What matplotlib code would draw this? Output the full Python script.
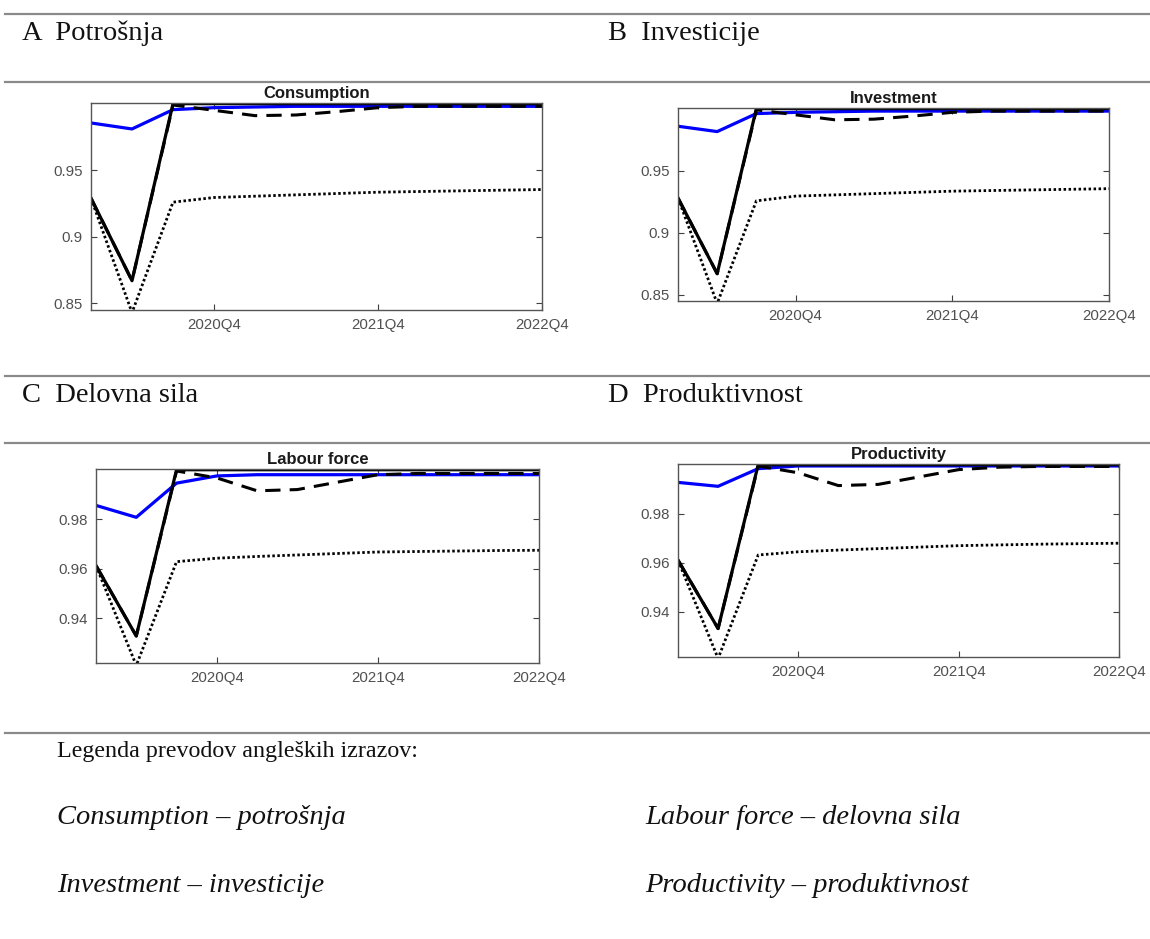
import numpy as np
import matplotlib
matplotlib.use("Agg")
from matplotlib import pyplot as plt

# quarters 2020Q1 .. 2022Q4
quarters = ["2020Q1", "2020Q2", "2020Q3", "2020Q4",
            "2021Q1", "2021Q2", "2021Q3", "2021Q4",
            "2022Q1", "2022Q2", "2022Q3", "2022Q4"]
tick_quarters = ["2020Q4", "2021Q4", "2022Q4"]

# Consumption
cons_blue   = [0.9855, 0.981, 0.9955, 0.997, 0.9975, 0.998, 0.998, 0.998, 0.998, 0.998, 0.998, 0.998]
cons_solid  = [0.929, 0.867, 1.0, 1.0, 1.0, 1.0, 1.0, 1.0, 1.0, 1.0, 1.0, 1.0]
cons_dashed = [0.929, 0.867, 0.999, 0.995, 0.991, 0.9915, 0.994, 0.997, 0.998, 0.998, 0.998, 0.998]
cons_dotted = [0.929, 0.843, 0.926, 0.9295, 0.9305, 0.9315, 0.9325, 0.9335, 0.934, 0.9345, 0.935, 0.9355]

# Investment
inv_blue   = [0.9858, 0.9815, 0.996, 0.997, 0.9975, 0.998, 0.998, 0.998, 0.998, 0.998, 0.998, 0.998]
inv_solid  = [0.928, 0.867, 1.0, 1.0, 1.0, 1.0, 1.0, 1.0, 1.0, 1.0, 1.0, 1.0]
inv_dashed = [0.928, 0.867, 0.999, 0.995, 0.991, 0.9915, 0.994, 0.997, 0.998, 0.998, 0.998, 0.998]
inv_dotted = [0.928, 0.843, 0.9257, 0.9295, 0.9305, 0.9315, 0.9325, 0.9335, 0.934, 0.9345, 0.935, 0.9355]

# Labour force
lab_blue   = [0.9856, 0.9808, 0.9946, 0.9975, 0.998, 0.998, 0.998, 0.998, 0.998, 0.998, 0.998, 0.998]
lab_solid  = [0.9613, 0.9329, 1.0, 1.0, 1.0, 1.0, 1.0, 1.0, 1.0, 1.0, 1.0, 1.0]
lab_dashed = [0.9613, 0.9329, 0.9995, 0.9967, 0.9915, 0.992, 0.995, 0.998, 0.9985, 0.9985, 0.9985, 0.9985]
lab_dotted = [0.9613, 0.921, 0.9629, 0.9643, 0.965, 0.9656, 0.9662, 0.9668, 0.967, 0.9672, 0.9674, 0.9675]

# Productivity
prod_blue   = [0.9928, 0.9912, 0.9984, 0.9995, 0.9995, 0.9995, 0.9995, 0.9995, 0.9995, 0.9995, 0.9995, 0.9995]
prod_solid  = [0.9611, 0.9332, 1.0, 1.0, 1.0, 1.0, 1.0, 1.0, 1.0, 1.0, 1.0, 1.0]
prod_dashed = [0.9611, 0.9332, 0.9995, 0.9967, 0.9915, 0.992, 0.995, 0.998, 0.999, 0.9993, 0.9993, 0.9993]
prod_dotted = [0.9611, 0.921, 0.9632, 0.9645, 0.9652, 0.9658, 0.9664, 0.967, 0.9673, 0.9676, 0.9678, 0.968]

yt_big = [0.85, 0.9, 0.95]
yt_big_lab = ["0.85", "0.9", "0.95"]
yt_small = [0.94, 0.96, 0.98]
yt_small_lab = ["0.94", "0.96", "0.98"]

W, H = 1150, 939
fig = plt.figure(figsize=(W / 100, H / 100), dpi=100)
fig.patch.set_facecolor("white")

serif = ["Liberation Serif", "DejaVu Serif"]
sans = ["Liberation Sans", "DejaVu Sans"]


def rect(left, right, top, bottom):
    return [left / W, 1 - bottom / H, (right - left) / W, (bottom - top) / H]


def panel(r, title, blue, solid, dashed, dotted, yt, ytl, ylim):
    ax = fig.add_axes(rect(*r))
    x = np.arange(len(quarters))
    ax.plot(x, blue, color="#0000ff", lw=2.3, solid_capstyle="butt")
    ax.plot(x, dotted, color="black", lw=2.0, linestyle=(0, (0.9, 0.9)))
    ax.plot(x, dashed, color="black", lw=2.2, linestyle=(0, (5, 3)))
    ax.plot(x, solid, color="black", lw=2.3)
    ax.set_xlim(0, len(quarters) - 1)
    ax.set_ylim(*ylim)
    ax.set_xticks([quarters.index(q) for q in tick_quarters])
    ax.set_xticklabels(tick_quarters)
    ax.set_yticks(yt)
    ax.set_yticklabels(ytl)
    ax.tick_params(direction="in", length=4, width=0.8, colors="#404040",
                   labelcolor="#505050", labelsize=10.8, top=True, right=True,
                   pad=6)
    for t in ax.get_xticklabels() + ax.get_yticklabels():
        t.set_family(sans)
    for s in ax.spines.values():
        s.set_color("#555555")
        s.set_linewidth(1.0)
    ax.set_title(title, fontsize=12, fontweight="bold", family=sans,
                 pad=3.5, color="#1a1a1a")
    return ax


panel((91, 542, 103, 310), "Consumption", cons_blue, cons_solid, cons_dashed,
      cons_dotted, yt_big, yt_big_lab, (0.845, 1.0005))
panel((678, 1109, 108, 301), "Investment", inv_blue, inv_solid, inv_dashed,
      inv_dotted, yt_big, yt_big_lab, (0.845, 1.0005))
panel((96, 539, 469, 663), "Labour force", lab_blue, lab_solid, lab_dashed,
      lab_dotted, yt_small, yt_small_lab, (0.922, 1.0003))
panel((678, 1119, 464, 657), "Productivity", prod_blue, prod_solid, prod_dashed,
      prod_dotted, yt_small, yt_small_lab, (0.9216, 1.0003))

# horizontal rules
for yy in [14, 82, 376, 443, 733]:
    fig.add_artist(plt.Line2D([5 / W, 1.0], [1 - yy / H, 1 - yy / H],
                              color="#8a8a8a", lw=1.6))

# panel headings
headings = [("A  Potrošnja", 22, 33), ("B  Investicije", 608, 33),
            ("C  Delovna sila", 22, 395), ("D  Produktivnost", 608, 395)]
for txt, xx, yy in headings:
    fig.text(xx / W, 1 - yy / H, txt, family=serif, fontsize=20.5,
             va="center", ha="left", color="#111111")

fig.text(57 / W, 1 - 752 / H, "Legenda prevodov angleških izrazov:",
         family=serif, fontsize=17.3, va="center", ha="left", color="#111111")

glossary = [("Consumption – potrošnja", 57, 818), ("Labour force – delovna sila", 645, 818),
            ("Investment – investicije", 57, 885), ("Productivity – produktivnost", 645, 885)]
for txt, xx, yy in glossary:
    fig.text(xx / W, 1 - yy / H, txt, family=serif, style="italic",
             fontsize=20.5, va="center", ha="left", color="#111111")

fig.savefig("out.png", dpi=100)
